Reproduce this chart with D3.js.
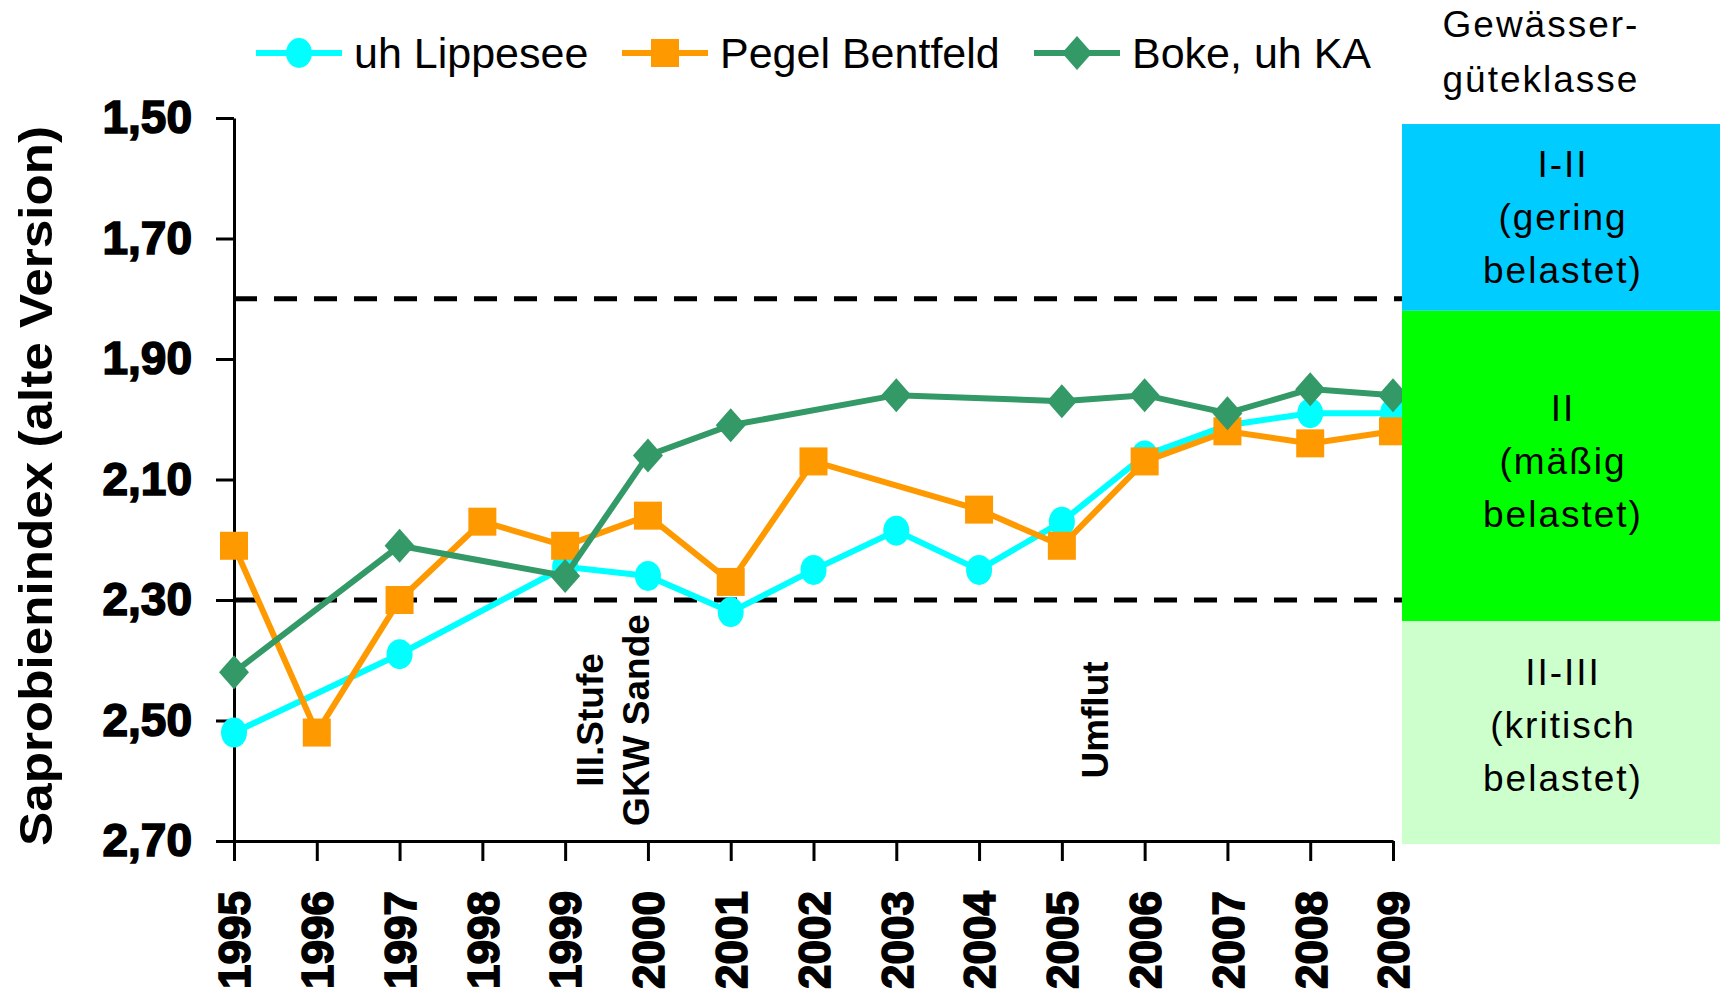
<!DOCTYPE html>
<html>
<head>
<meta charset="utf-8">
<script src="https://cdn.jsdelivr.net/npm/d3@7"></script>
<style>
  body { margin: 0; background: #fff; }
  text { font-family: "Liberation Sans", Arial, sans-serif; }
</style>
</head>
<body>
<div id="chart"></div>
<script>
// data (null = no value that year, line runs through)
var years = [1995, 1996, 1997, 1998, 1999, 2000, 2001, 2002, 2003, 2004, 2005, 2006, 2007, 2008, 2009];
var lippesee = [2.52, null, 2.39, null, 2.245, 2.26, 2.32, 2.25, 2.185, 2.25, 2.17, 2.06, 2.01, 1.99, 1.99];
var bentfeld = [2.21, 2.52, 2.30, 2.17, 2.21, 2.16, 2.27, 2.07, null, 2.15, 2.21, 2.07, 2.02, 2.04, 2.02];
var boke = [2.42, null, 2.21, null, 2.26, 2.06, 2.01, null, 1.96, null, 1.97, 1.96, 1.99, 1.95, 1.96];
var seriesNames = ["uh Lippesee", "Pegel Bentfeld", "Boke, uh KA"];
var yTicks = [1.5, 1.7, 1.9, 2.1, 2.3, 2.5, 2.7];
var limitLines = [1.8, 2.3];
var classBounds = [1.51, 1.82, 2.335, 2.705];
var classLabels = [["I-II", "(gering", "belastet)"], ["II", "(mäßig", "belastet)"], ["II-III", "(kritisch", "belastet)"]];
var classTitle = ["Gewässer-", "güteklasse"];
var notes = [{ year: 2000, lines: ["III.Stufe", "GKW Sande"] }, { year: 2005, lines: ["Umflut"] }];

var seriesColors = ["#00FFFF", "#FF9900", "#339966"];
var seriesShapes = ["circle", "square", "diamond"];
var classColors = ["#00CCFF", "#00FF00", "#CCFFCC"];

var svgWidth = 1720;
var svgHeight = 999;
var margin = { top: 118, right: 327, bottom: 158, left: 234 };
var width = svgWidth - margin.left - margin.right;
var height = svgHeight - margin.top - margin.bottom;

var svg = d3.select("#chart")
  .append("svg")
  .attr("width", svgWidth)
  .attr("height", svgHeight);

var g = svg.append("g")
  .attr("transform", `translate(${margin.left}, ${margin.top})`);

var x = d3.scaleLinear().domain([1995, 2009]).range([0, width]);
var y = d3.scaleLinear().domain([1.5, 2.7]).range([0, height]);

// class bands on the right
var bandX = 1402;
var bandW = svgWidth - bandX;
var bandTextShift = [0, -5, -8];
classLabels.forEach(function(lines, i) {
  var y0 = margin.top + y(classBounds[i]);
  var y1 = margin.top + y(classBounds[i + 1]);
  svg.append("rect")
    .attr("x", bandX).attr("y", y0)
    .attr("width", bandW).attr("height", y1 - y0)
    .attr("fill", classColors[i]);
  var mid = (y0 + y1) / 2 + bandTextShift[i];
  lines.forEach(function(t, j) {
    svg.append("text")
      .attr("x", bandX + bandW / 2 + 2)
      .attr("y", mid + (j - 1) * 53 + 13)
      .attr("text-anchor", "middle")
      .attr("font-size", 37)
      .attr("letter-spacing", 2)
      .text(t);
  });
});

classTitle.forEach(function(t, j) {
  svg.append("text")
    .attr("x", 1541)
    .attr("y", 37 + j * 55)
    .attr("text-anchor", "middle")
    .attr("font-size", 37)
    .attr("letter-spacing", 2)
    .text(t);
});

// dashed limit lines
g.selectAll(".limit")
  .data(limitLines)
  .enter()
  .append("line")
  .attr("x1", 0)
  .attr("x2", bandX - margin.left)
  .attr("y1", d => y(d))
  .attr("y2", d => y(d))
  .attr("stroke", "#000")
  .attr("stroke-width", 5)
  .attr("stroke-dasharray", "23,17");

// axes
var leftAxis = d3.axisLeft(y)
  .tickValues(yTicks)
  .tickSize(18)
  .tickSizeOuter(0)
  .tickPadding(24)
  .tickFormat(d => d3.format(".2f")(d).replace(".", ","));

var bottomAxis = d3.axisBottom(x)
  .tickValues(years)
  .tickSize(20)
  .tickSizeOuter(0)
  .tickFormat(d3.format("d"));

var yAxis = g.append("g").call(leftAxis);
yAxis.selectAll("text")
  .attr("font-size", 46)
  .attr("font-weight", "bold")
  .attr("stroke", "#000")
  .attr("stroke-width", 1.6)
  .attr("fill", "#000");

var xAxis = g.append("g")
  .attr("transform", `translate(0, ${height})`)
  .call(bottomAxis);
xAxis.selectAll("text")
  .attr("transform", "rotate(-90)")
  .attr("text-anchor", "end")
  .attr("x", -50)
  .attr("y", 0)
  .attr("dy", "0.36em")
  .attr("font-size", 44)
  .attr("font-weight", "bold")
  .attr("stroke", "#000")
  .attr("stroke-width", 1.6)
  .attr("fill", "#000");

[yAxis, xAxis].forEach(function(a) {
  a.selectAll("path, line").attr("stroke", "#000").attr("stroke-width", 3);
});

// y axis title
svg.append("text")
  .attr("transform", "rotate(-90)")
  .attr("x", -486)
  .attr("y", 52)
  .attr("text-anchor", "middle")
  .attr("font-size", 46)
  .attr("font-weight", "bold")
  .attr("textLength", 720)
  .attr("lengthAdjust", "spacingAndGlyphs")
  .text("Saprobienindex (alte Version)");

// annotations
notes.forEach(function(n) {
  var nLines = n.lines.length;
  n.lines.forEach(function(t, j) {
    var bx = x(n.year) + 46 * (j - nLines + 1) + (nLines > 1 ? 1 : 46);
    g.append("text")
      .attr("transform", "rotate(-90)")
      .attr("x", -(720 - margin.top))
      .attr("y", bx)
      .attr("text-anchor", "middle")
      .attr("font-size", 37)
      .attr("font-weight", "bold")
      .text(t);
  });
});

// markers
function drawMarker(sel, shape, color, cx, cy) {
  if (shape === "circle") {
    sel.append("ellipse")
      .attr("cx", cx).attr("cy", cy)
      .attr("rx", 13).attr("ry", 15)
      .attr("fill", color);
  } else if (shape === "square") {
    sel.append("rect")
      .attr("x", cx - 14).attr("y", cy - 14)
      .attr("width", 28).attr("height", 28)
      .attr("fill", color);
  } else {
    sel.append("path")
      .attr("d", `M${cx},${cy - 17}L${cx + 15},${cy}L${cx},${cy + 17}L${cx - 15},${cy}Z`)
      .attr("fill", color);
  }
}

var allSeries = [lippesee, bentfeld, boke];
var line = d3.line()
  .x(d => x(d.year))
  .y(d => y(d.value));

allSeries.forEach(function(vals, i) {
  var pts = years.map((yr, k) => ({ year: yr, value: vals[k] }))
    .filter(d => d.value !== null);
  var sg = g.append("g");
  sg.append("path")
    .datum(pts)
    .attr("d", line)
    .attr("fill", "none")
    .attr("stroke", seriesColors[i])
    .attr("stroke-width", 6);
  pts.forEach(function(d) {
    drawMarker(sg, seriesShapes[i], seriesColors[i], x(d.year), y(d.value));
  });
});

// legend
var legendX = [256, 622, 1034];
seriesNames.forEach(function(name, i) {
  var lg = svg.append("g");
  lg.append("line")
    .attr("x1", legendX[i]).attr("x2", legendX[i] + 86)
    .attr("y1", 53).attr("y2", 53)
    .attr("stroke", seriesColors[i])
    .attr("stroke-width", 6);
  drawMarker(lg, seriesShapes[i], seriesColors[i], legendX[i] + 43, 53);
  lg.append("text")
    .attr("x", legendX[i] + 98)
    .attr("y", 68)
    .attr("font-size", 43)
    .text(name);
});
</script>
</body>
</html>
